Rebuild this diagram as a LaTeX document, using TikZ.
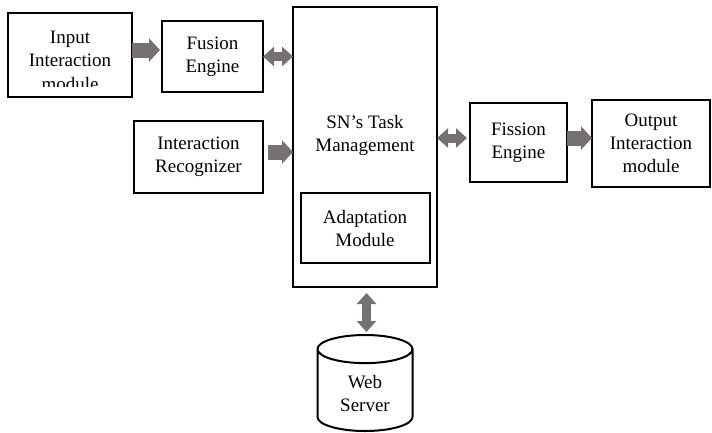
\documentclass[tikz,border=0pt]{standalone}
\usepackage{fontspec}
\setmainfont{Liberation Serif}
\usetikzlibrary{shapes.geometric, arrows.meta, positioning}
\definecolor{arrowgray}{RGB}{118,113,113}

\begin{document}
\begin{tikzpicture}[
    box/.style={rectangle, draw, line width=2pt, align=center, outer sep=0pt, font=\fontsize{19}{23}\selectfont},
    blockarrow/.style={draw=arrowgray, line width=15pt, -{Triangle[width=23pt, length=11pt]}},
    dblarrow/.style={draw=arrowgray, line width=9pt, {Triangle[width=19pt, length=11pt]}-{Triangle[width=19pt, length=11pt]}}
]
\useasboundingbox (0pt,0pt) rectangle (712pt,-432pt);

% Bloque central
\node (task) [box, minimum width=144pt, minimum height=280pt] at (365pt,-147pt) {};
\node (tasktext) [font=\fontsize{19}{23}\selectfont, align=center] at ([yshift=12pt]task.center) {SN’s Task\\Management};
\node (adapt) [box, minimum width=129pt, minimum height=70pt, above=24pt of task.south] {Adaptation\\Module};

% Entradas
\node (fusion) [box, minimum width=101pt, minimum height=71pt, left=30pt of task, yshift=90.5pt] {Fusion\\Engine};
\node (recog) [box, minimum width=129pt, minimum height=72pt, left=30pt of task, yshift=-10pt] {Interaction\\Recognizer};
\node (input) [box, minimum width=124pt, minimum height=84pt, left=30pt of fusion, yshift=1.5pt] {};
\begin{scope}
    \clip (input.north west) rectangle ([yshift=11pt]input.south east);
    \node (inputtext) [font=\fontsize{19}{23.5}\selectfont, align=center] at ([yshift=-5.5pt]input.center) {Input\\Interaction\\module};
\end{scope}

% Salidas
\node (fission) [box, minimum width=97pt, minimum height=79pt, right=33pt of task, yshift=4.5pt] {Fission\\Engine};
\node (output) [box, minimum width=118pt, minimum height=87pt, right=25pt of fission, yshift=-1pt] {Output\\Interaction\\module};

% Servidor
\node (web) [cylinder, shape border rotate=90, draw, line width=2pt, aspect=0.5, minimum width=95pt, minimum height=96pt, below=47pt of task, align=center, font=\fontsize{19}{23}\selectfont] {Web\\Server};

% Flechas
\draw [blockarrow] ([yshift=5pt]input.east) -- ([yshift=5pt,xshift=-2pt]input.east -| fusion.west);
\draw [dblarrow] (fusion.east) -- (fusion.east -| task.west);
\draw [blockarrow] ([xshift=5pt,yshift=5pt]recog.east) -- ([yshift=5pt]recog.east -| task.west);
\draw [dblarrow] ([yshift=4.5pt]fission.west -| task.east) -- ([yshift=4.5pt,xshift=-3pt]fission.west);
\draw [blockarrow] ([yshift=4.5pt]fission.east) -- ([yshift=4.5pt]fission.east -| output.west);
\draw [dblarrow] ([xshift=1.5pt,yshift=-6pt]task.south) -- ([xshift=1.5pt,yshift=2pt]web.north);

\end{tikzpicture}
\end{document}
